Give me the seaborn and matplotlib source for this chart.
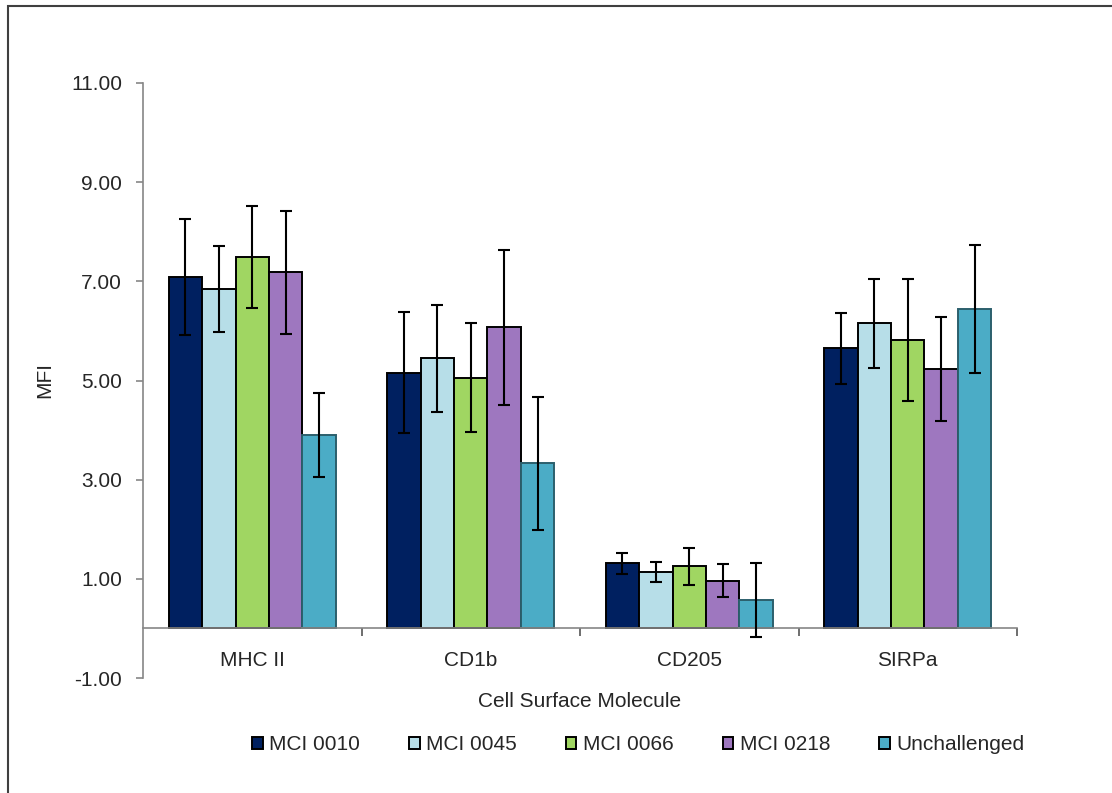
import matplotlib
matplotlib.use("Agg")
import matplotlib.pyplot as plt
from matplotlib.patches import Rectangle
from matplotlib.ticker import FormatStrFormatter, FixedLocator
import numpy as np
import pandas as pd
import seaborn as sns

# Mean fluorescence intensity per cell surface molecule and challenge group
molecules = ["MHC II", "CD1b", "CD205", "SIRPa"]
groups = ["MCI 0010", "MCI 0045", "MCI 0066", "MCI 0218", "Unchallenged"]

mci_0010 = [7.08, 5.16, 1.31, 5.65]
mci_0045 = [6.84, 5.45, 1.13, 6.15]
mci_0066 = [7.49, 5.06, 1.25, 5.81]
mci_0218 = [7.18, 6.07, 0.96, 5.24]
unchallenged = [3.90, 3.33, 0.57, 6.44]

err_0010 = [1.17, 1.22, 0.22, 0.72]
err_0045 = [0.87, 1.08, 0.20, 0.89]
err_0066 = [1.03, 1.09, 0.37, 1.23]
err_0218 = [1.24, 1.56, 0.33, 1.05]
err_unchallenged = [0.84, 1.34, 0.75, 1.29]

y_ticks = [-1, 1, 3, 5, 7, 9, 11]

colors = ["#002060", "#B7DEE8", "#A0D662", "#9E77BF", "#4BACC6"]

means = [mci_0010, mci_0045, mci_0066, mci_0218, unchallenged]
errors = [err_0010, err_0045, err_0066, err_0218, err_unchallenged]

df = pd.DataFrame({
    "Molecule": np.tile(molecules, len(groups)),
    "Group": np.repeat(groups, len(molecules)),
    "MFI": np.concatenate(means),
})

sns.set_style("white")
plt.rcParams["font.family"] = ["Liberation Sans", "DejaVu Sans"]
plt.rcParams["font.size"] = 15

fig = plt.figure(figsize=(11.12, 7.93), dpi=100)
W, H = 1112, 793
ax = fig.add_axes([143 / W, 1 - 678 / H, (1017 - 143) / W, (678 - 83) / H])

sns.barplot(
    data=df, x="Molecule", y="MFI", hue="Group",
    order=molecules, hue_order=groups, palette=colors,
    width=0.765, gap=0, errorbar=None,
    edgecolor="black", linewidth=1.4, saturation=1, ax=ax,
)

# the unchallenged series is outlined in a dark teal
for bar in ax.containers[-1]:
    bar.set_edgecolor("#2c5f6c")

# error bars at the centre of each drawn bar
for container, errs in zip(ax.containers, errors):
    xs = [b.get_x() + b.get_width() / 2 for b in container]
    ys = [b.get_height() for b in container]
    ax.errorbar(xs, ys, yerr=errs, fmt="none", ecolor="black",
                elinewidth=1.5, capsize=4, capthick=1.5, zorder=5)

ax.set_xlim(-0.5, 3.5)
ax.set_ylim(-1, 11)
ax.set_yticks(y_ticks)
ax.yaxis.set_major_formatter(FormatStrFormatter("%.2f"))

for side in ["top", "right"]:
    ax.spines[side].set_visible(False)
ax.spines["bottom"].set_position(("data", 0))
ax.spines["bottom"].set_color("#868686")
ax.spines["left"].set_color("#868686")
ax.spines["bottom"].set_linewidth(1.2)
ax.spines["left"].set_linewidth(1.2)

ax.tick_params(axis="y", which="major", direction="out", length=5, width=1.2,
               color="#868686", pad=10, labelsize=15, left=True)
ax.tick_params(axis="x", which="major", length=0, pad=16, labelsize=15)
ax.xaxis.set_minor_locator(FixedLocator([0.5, 1.5, 2.5, 3.5]))
ax.tick_params(axis="x", which="minor", direction="out", length=6, width=1.2,
               color="#555555", bottom=True)

ax.set_xlabel("Cell Surface Molecule", fontsize=15)
ax.xaxis.set_label_coords(0.5, -0.04)
ax.xaxis.label.set_verticalalignment("center")
ax.set_ylabel("MFI", fontsize=15)
ax.yaxis.set_label_coords(-0.112, 0.5)
ax.yaxis.label.set_verticalalignment("center")

handles, labels = ax.get_legend_handles_labels()
ax.legend(handles, labels, ncol=5, loc="center",
          bbox_to_anchor=(0.574, 1 - 745 / H), bbox_transform=fig.transFigure,
          frameon=False, fontsize=15, handlelength=0.5, handleheight=0.5,
          handletextpad=0.3, columnspacing=2.37)

# outer chart frame
fig.patches.append(Rectangle((8 / W, -0.2), 1.5, 1 - 6 / H + 0.2,
                             transform=fig.transFigure, fill=False,
                             edgecolor="#3f3f3f", linewidth=1.5))

fig.savefig("out.png", dpi=100, facecolor="white")
